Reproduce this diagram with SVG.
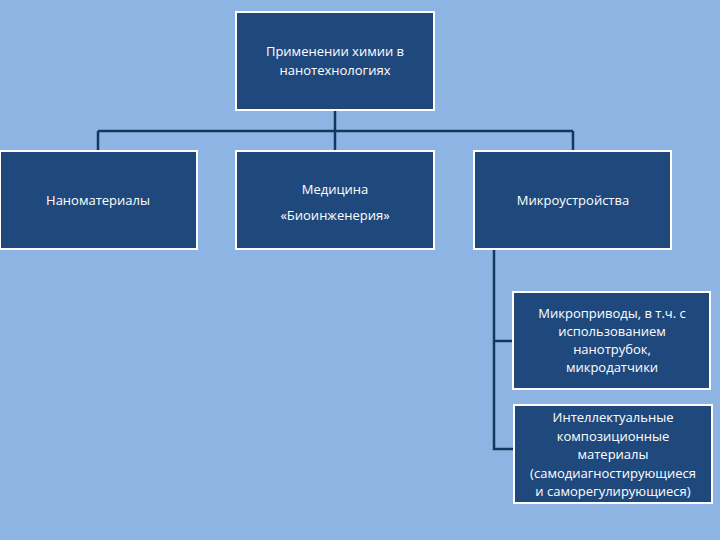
<svg xmlns="http://www.w3.org/2000/svg" width="720" height="540" viewBox="0 0 720 540">
<style>
.b{fill:#1F497D;stroke:#fff;stroke-width:2}
.t{font-family:"Open Sans","Liberation Sans",sans-serif;font-size:13px;fill:#fff;text-anchor:middle}
.c{stroke:#17365D;stroke-width:2.5;fill:none}
</style>
<rect width="720" height="540" fill="#8DB4E2"/>
<g id="connectors">
<path class="c" d="M335 110V131M98 131H573M98 131V151M335 131V151M573 131V151M494 249V449H513M494 341H513"/>
</g>
<g id="n0"><rect class="b" x="236" y="12" width="198" height="98"/><text class="t" x="335" y="56">Применении химии в</text><text class="t" x="335" y="75">нанотехнологиях</text></g>
<g id="n1"><rect class="b" x="0" y="151" width="197" height="98"/><text class="t" x="98" y="205">Наноматериалы</text></g>
<g id="n2"><rect class="b" x="236" y="151" width="198" height="98"/><text class="t" x="335" y="194">Медицина</text><text class="t" x="335" y="220">«Биоинженерия»</text></g>
<g id="n3"><rect class="b" x="474" y="151" width="197" height="98"/><text class="t" x="573" y="205">Микроустройства</text></g>
<g id="n4"><rect class="b" x="513" y="292" width="197" height="97"/><text class="t" x="612" y="318">Микроприводы, в т.ч. с</text><text class="t" x="612" y="336">использованием</text><text class="t" x="612" y="354">нанотрубок,</text><text class="t" x="612" y="372">микродатчики</text></g>
<g id="n5"><rect class="b" x="514" y="405" width="198" height="98"/><text class="t" x="613" y="422">Интеллектуальные</text><text class="t" x="613" y="441">композиционные</text><text class="t" x="613" y="459">материалы</text><text class="t" x="613" y="478">(самодиагностирующиеся</text><text class="t" x="613" y="496">и саморегулирующиеся)</text></g>
</svg>
